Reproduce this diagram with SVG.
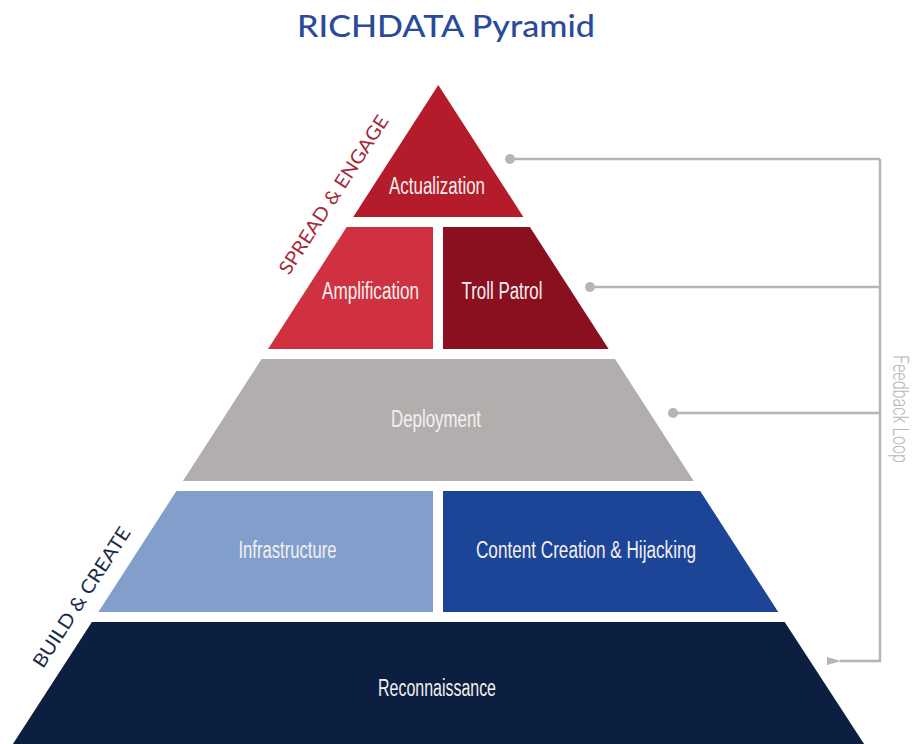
<svg xmlns="http://www.w3.org/2000/svg" width="920" height="744" viewBox="0 0 920 744">
<style>
.lbl{font-family:"Liberation Sans",Arial,sans-serif;font-size:23px;fill:#f3f0f0;text-anchor:middle}
.side{font-family:Lato,"Liberation Sans",sans-serif;font-size:19px;text-anchor:middle}
.conn{stroke:#b5b5b5;stroke-width:2.5;fill:none}
.dot{fill:#b5b5b5}
</style>
<defs>
<marker id="arr" viewBox="0 0 14 8" refX="1" refY="4" markerWidth="14" markerHeight="8" markerUnits="userSpaceOnUse" orient="auto">
<path d="M14,0 L0,4 L14,8 Z" fill="#b5b5b5"/>
</marker>
</defs>
<rect width="920" height="744" fill="#ffffff"/>
<g id="title">
<text x="446" y="37" font-family="Lato,'Liberation Sans',sans-serif" font-size="30" font-weight="500" fill="#2c4a9a" text-anchor="middle" textLength="298" lengthAdjust="spacingAndGlyphs">RICHDATA Pyramid</text>
</g>
<g id="actualization">
<polygon points="438.3,85 523.4,217 353.2,217" fill="#b51c2b"/>
<text class="lbl" x="437" y="194" textLength="96" lengthAdjust="spacingAndGlyphs">Actualization</text>
</g>
<g id="amplification">
<polygon points="346.7,227 433,227 433,349 268,349" fill="#cf3140"/>
<text class="lbl" x="370.5" y="299" textLength="97" lengthAdjust="spacingAndGlyphs">Amplification</text>
</g>
<g id="troll-patrol">
<polygon points="443,227 529.9,227 608.6,349 443,349" fill="#8a1020"/>
<text class="lbl" x="502" y="299" textLength="81" lengthAdjust="spacingAndGlyphs">Troll Patrol</text>
</g>
<g id="deployment">
<polygon points="261.6,359 615,359 693.7,481 182.9,481" fill="#b3aeae"/>
<text class="lbl" x="436" y="427" textLength="90" lengthAdjust="spacingAndGlyphs">Deployment</text>
</g>
<g id="infrastructure">
<polygon points="176.4,491 433,491 433,612 98.4,612" fill="#829fcb"/>
<text class="lbl" x="287.5" y="558" textLength="98" lengthAdjust="spacingAndGlyphs">Infrastructure</text>
</g>
<g id="content-creation">
<polygon points="443,491 700.2,491 778.2,612 443,612" fill="#1c4497"/>
<text class="lbl" x="586" y="558" textLength="220" lengthAdjust="spacingAndGlyphs">Content Creation &amp; Hijacking</text>
</g>
<g id="reconnaissance">
<polygon points="91.9,622 784.7,622 868,750 9,750" fill="#0c1f40"/>
<text class="lbl" x="437" y="696" textLength="118" lengthAdjust="spacingAndGlyphs">Reconnaissance</text>
</g>
<g id="spread-engage">
<text class="side" fill="#a52a3a" transform="translate(339.2,198.3) rotate(-57.2)" textLength="185" lengthAdjust="spacingAndGlyphs">SPREAD &amp; ENGAGE</text>
</g>
<g id="build-create">
<text class="side" fill="#1b2b4b" transform="translate(87.2,600.8) rotate(-57.2)" textLength="163" lengthAdjust="spacingAndGlyphs">BUILD &amp; CREATE</text>
</g>
<g id="feedback-label">
<text transform="translate(893,409) rotate(90)" font-family="Roboto,'Liberation Sans',sans-serif" font-size="22" font-weight="300" fill="#b8b8b8" text-anchor="middle" textLength="108" lengthAdjust="spacingAndGlyphs">Feedback Loop</text>
</g>
<g id="connectors">
<circle class="dot" cx="510" cy="159" r="5"/>
<circle class="dot" cx="590" cy="287" r="5"/>
<circle class="dot" cx="673" cy="413" r="5"/>
<path class="conn" d="M510,159 H880 M590,287 H880 M673,413 H880"/>
<path class="conn" d="M880,159 V661 H840" marker-end="url(#arr)"/>
</g>
</svg>
